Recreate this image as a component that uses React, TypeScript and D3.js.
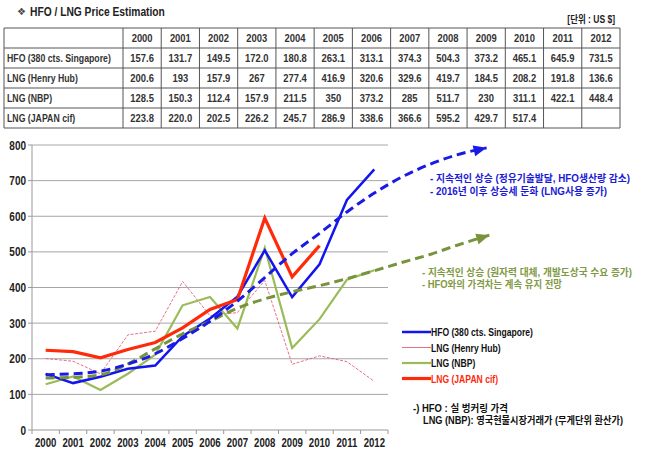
import React from "react";
import * as d3 from "d3";

const years = ["2000","2001","2002","2003","2004","2005","2006","2007","2008","2009","2010","2011","2012"];
const seriesNames = ["HFO (380 cts. Singapore)", "LNG (Henry Hub)", "LNG (NBP)", "LNG (JAPAN cif)"];
const hfo = [157.6,131.7,149.5,172.0,180.8,263.1,313.1,374.3,504.3,373.2,465.1,645.9,731.5];
const henryHub = [200.6,193,157.9,267,277.4,416.9,320.6,329.6,419.7,184.5,208.2,191.8,136.6];
const nbp = [128.5,150.3,112.4,157.9,211.5,350,373.2,285,511.7,230,311.1,422.1,448.4];
const japan: (number|null)[] = [223.8,220.0,202.5,226.2,245.7,286.9,338.6,366.6,595.2,429.7,517.4,null,null];
const tableText = [
  ["157.6","131.7","149.5","172.0","180.8","263.1","313.1","374.3","504.3","373.2","465.1","645.9","731.5"],
  ["200.6","193","157.9","267","277.4","416.9","320.6","329.6","419.7","184.5","208.2","191.8","136.6"],
  ["128.5","150.3","112.4","157.9","211.5","350","373.2","285","511.7","230","311.1","422.1","448.4"],
  ["223.8","220.0","202.5","226.2","245.7","286.9","338.6","366.6","595.2","429.7","517.4","",""],
];
const yTicks = [0,100,200,300,400,500,600,700,800];
// trend annotations: [year index, value]
const hfoTrend: [number, number][] = [[0,155],[1,158],[2,165],[3,185],[4,214],[5,257],[6,305],[7,362],[8,428],[9,495],[10,552],[11,612],[12,665],[13,710],[14,745],[15,772],[16.1,792]];
const lngTrend: [number, number][] = [[0,146],[1,148],[2,155],[3,185],[4,228],[5,270],[6,305],[7,342],[8,368],[9,388],[10,405],[11,425],[12,447],[13,470],[14,492],[15,518],[16.2,547]];

const FONT = "'Liberation Sans',Arial,sans-serif";
const KFONT = "'Liberation Sans','Noto Sans CJK KR',sans-serif";

const colors = { hfo: "#1414f0", hh: "#e2607a", nbp: "#9bbb59", jp: "#ff2a0a", hfoT: "#1a1ae6", lngT: "#77933c" };

type TProps = { x: number; y: number; size: number; weight?: string; squeeze?: number; fill?: string; anchor?: string; family?: string; children: string };
function T({ x, y, size, weight = "bold", squeeze = 0.82, fill = "#222", anchor = "start", family = FONT, children }: TProps) {
  if (!children) return null;
  return (
    <text transform={`translate(${x},${y}) scale(${squeeze},1)`} fontSize={size} fontWeight={weight} fill={fill}
      textAnchor={anchor} fontFamily={family}>{children}</text>
  );
}

export default function App() {
  const W = 645, H = 457;
  const plotL = 32, plotR = 388, plotT = 145, plotB = 430;
  const xBand = d3.scaleBand<string>().domain(years).range([plotL, plotR]).padding(0);
  const bw = xBand.bandwidth();
  const cx = (i: number) => (xBand(years[i]) as number) + bw / 2;
  const xIdx = d3.scaleLinear().domain([0, 12]).range([cx(0), cx(12)]);
  const y = d3.scaleLinear().domain([0, 800]).range([plotB, plotT]);

  const line = d3.line<number|null>().defined(d => d != null).x((_, i) => cx(i)).y(d => y(d as number));
  const trendLine = d3.line<[number, number]>().x(d => xIdx(d[0])).y(d => y(d[1])).curve(d3.curveMonotoneX);

  const arrow = (pts: [number, number][], color: string) => {
    const a = pts[pts.length - 1], b = pts[pts.length - 2];
    const x1 = xIdx(a[0]), y1 = y(a[1]), x0 = xIdx(b[0]), y0 = y(b[1]);
    const ang = Math.atan2(y1 - y0, x1 - x0);
    const L = 13, Wd = 5.5;
    const bx = x1 - L * Math.cos(ang), by = y1 - L * Math.sin(ang);
    const p = [
      [x1, y1],
      [bx + Wd * Math.sin(ang), by - Wd * Math.cos(ang)],
      [bx - Wd * Math.sin(ang), by + Wd * Math.cos(ang)],
    ];
    return <polygon points={p.map(q => q.join(",")).join(" ")} fill={color} />;
  };

  // table geometry
  const tL = 4, tR = 620, tT = 28, rowH = 20, firstW = 119;
  const colW = (tR - tL - firstW) / years.length;
  const rows = 5;

  return (
    <svg width={W} height={H} style={{ position: "absolute", left: 0, top: 0, background: "#fff" }} fontFamily={FONT}>
      <rect width={W} height={H} fill="#fff" />
      {/* title */}
      <text x={17} y={15} fontSize={10} fill="#444" fontFamily="'DejaVu Sans',sans-serif">❖</text>
      <T x={30} y={16} size={13.5} weight="bold" squeeze={0.76} fill="#222">HFO / LNG Price Estimation</T>
      <T x={615} y={23} size={10} anchor="end" family={KFONT} squeeze={0.85} fill="#222">[단위 : US $]</T>

      {/* table */}
      <g>
        {d3.range(rows + 1).map(r => (
          <line key={"h" + r} x1={tL} x2={tR} y1={tT + r * rowH} y2={tT + r * rowH} stroke="#555" strokeWidth={1} />
        ))}
        <line x1={tL} x2={tL} y1={tT} y2={tT + rows * rowH} stroke="#555" />
        {d3.range(years.length + 1).map(c => (
          <line key={"v" + c} x1={tL + firstW + c * colW} x2={tL + firstW + c * colW} y1={tT} y2={tT + rows * rowH} stroke="#555" />
        ))}
        {years.map((yr, c) => (
          <T key={"hy" + yr} x={tL + firstW + (c + 0.5) * colW} y={tT + rowH / 2 + 4} size={11.5} fill="#333" anchor="middle">{yr}</T>
        ))}
        {seriesNames.map((n, r) => (
          <T key={"rn" + r} x={7} y={tT + (r + 1.5) * rowH + 4} size={11.5} fill="#333" squeeze={0.76}>{n}</T>
        ))}
        {tableText.map((row, r) => row.map((v, c) => (
          <T key={"c" + r + "_" + c} x={tL + firstW + (c + 0.5) * colW} y={tT + (r + 1.5) * rowH + 4} size={11.5} fill="#333" anchor="middle">{v}</T>
        )))}
      </g>

      {/* grid */}
      {yTicks.filter(t => t > 0).map(t => (
        <line key={"g" + t} x1={plotL} x2={plotR} y1={y(t)} y2={y(t)} stroke="#a6a6a6" strokeWidth={1} />
      ))}
      <line x1={plotL} x2={plotL} y1={plotT} y2={plotB} stroke="#999" />
      <line x1={plotL} x2={plotR} y1={plotB} y2={plotB} stroke="#999" />
      {yTicks.map(t => (
        <g key={"yt" + t}>
          <line x1={plotL - 4} x2={plotL} y1={y(t)} y2={y(t)} stroke="#999" />
          <T x={26} y={y(t) + 4.5} size={12.5} fill="#222" anchor="end" squeeze={0.8}>{String(t)}</T>
        </g>
      ))}
      {d3.range(years.length + 1).map(i => (
        <line key={"xt" + i} x1={plotL + i * bw} x2={plotL + i * bw} y1={plotB} y2={plotB + 4} stroke="#999" />
      ))}
      {years.map((yr, i) => (
        <T key={"xl" + yr} x={cx(i)} y={447} size={12} fill="#222" anchor="middle" squeeze={0.8}>{yr}</T>
      ))}

      {/* series */}
      <path d={line(henryHub) || ""} fill="none" stroke={colors.hh} strokeWidth={0.9} strokeDasharray="3,1.5" />
      <path d={line(nbp) || ""} fill="none" stroke={colors.nbp} strokeWidth={2.2} />
      <path d={line(hfo) || ""} fill="none" stroke={colors.hfo} strokeWidth={2.5} />
      <path d={line(japan) || ""} fill="none" stroke={colors.jp} strokeWidth={3.2} />

      {/* trends */}
      <path d={trendLine(lngTrend) || ""} fill="none" stroke={colors.lngT} strokeWidth={3} strokeDasharray="9,5" />
      {arrow(lngTrend, colors.lngT)}
      <path d={trendLine(hfoTrend) || ""} fill="none" stroke={colors.hfoT} strokeWidth={3} strokeDasharray="9,5" />
      {arrow(hfoTrend, colors.hfoT)}

      {/* annotations */}
      <g fontFamily={KFONT} fontSize={10} fontWeight="bold">
        <text x={430} y={182} fill="#1a1ad6" textLength={200} lengthAdjust="spacingAndGlyphs">- 지속적인 상승 (정유기술발달, HFO생산량 감소)</text>
        <text x={430} y={195} fill="#1a1ad6" textLength={177} lengthAdjust="spacingAndGlyphs">- 2016년 이후 상승세 둔화 (LNG사용 증가)</text>
        <text x={422} y={276} fill="#7f9a45" textLength={210} lengthAdjust="spacingAndGlyphs">- 지속적인 상승 (원자력 대체, 개발도상국 수요 증가)</text>
        <text x={422} y={288} fill="#7f9a45" textLength={140} lengthAdjust="spacingAndGlyphs">- HFO와의 가격차는 계속 유지 전망</text>
      </g>

      {/* legend */}
      {seriesNames.map((n, i) => {
        const ly = 332 + i * 15.5;
        const st = [colors.hfo, colors.hh, colors.nbp, colors.jp][i];
        const sw = [2.5, 0.9, 2.2, 3.2][i];
        return (
          <g key={"lg" + i}>
            <line x1={402} x2={431} y1={ly} y2={ly} stroke={st} strokeWidth={sw} />
            <T x={431} y={ly + 4} size={11} fill={i === 3 ? "#ff2a0a" : "#111"} squeeze={0.78}>{n}</T>
          </g>
        );
      })}

      {/* note */}
      <g fontFamily={KFONT} fontSize={10} fontWeight="bold" fill="#111">
        <text x={413} y={412} textLength={95} lengthAdjust="spacingAndGlyphs">-) HFO : 실 벙커링 가격</text>
        <text x={423} y={424} textLength={200} lengthAdjust="spacingAndGlyphs">LNG (NBP): 영국현물시장거래가 (무게단위 환산가)</text>
      </g>
    </svg>
  );
}
